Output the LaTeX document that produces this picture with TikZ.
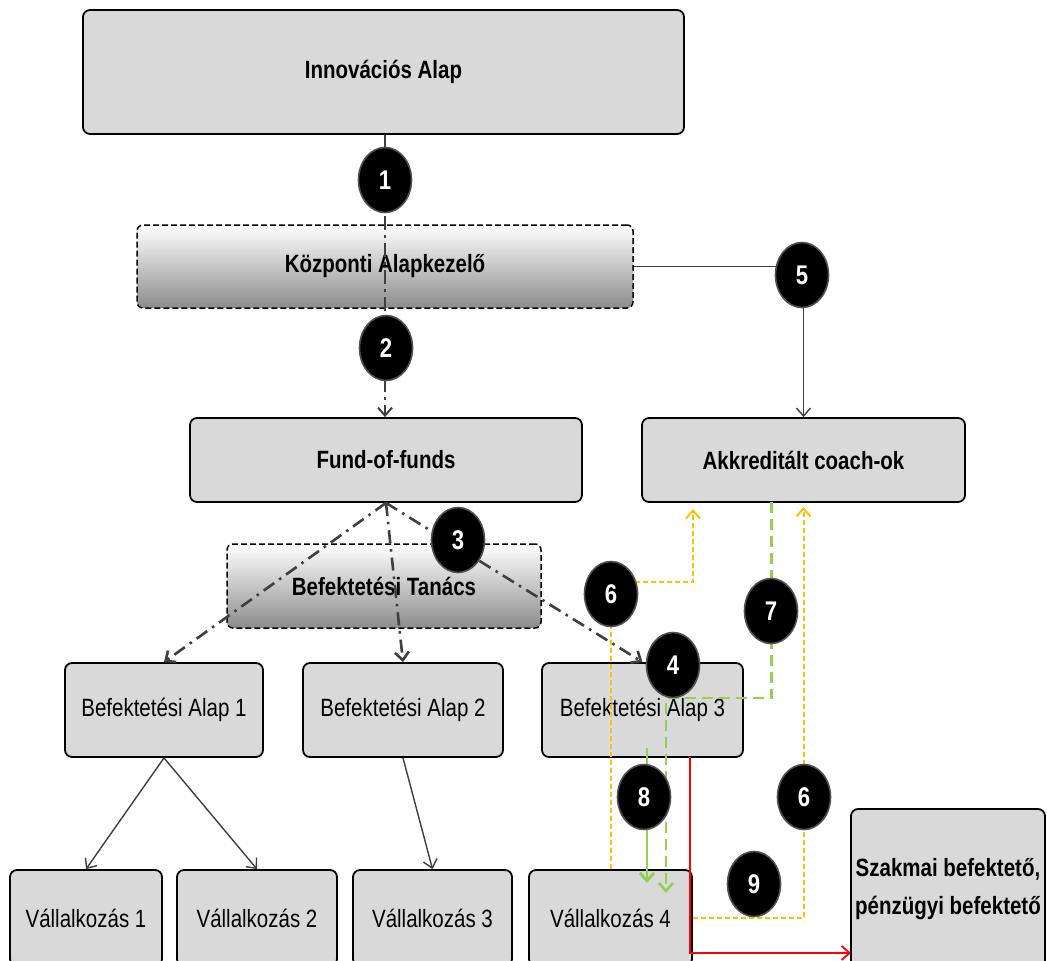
\documentclass[tikz,border=0pt]{standalone}
\usepackage{fontspec}
\newfontfamily\ar[FakeStretch=0.82]{Liberation Sans}
\usetikzlibrary{shapes.geometric,arrows.meta,calc}
\definecolor{boxgray}{HTML}{D9D9D9}
\definecolor{shgray}{HTML}{8C8C8C}
\definecolor{lngray}{HTML}{3F3F3F}
\definecolor{yel}{HTML}{FFC000}
\definecolor{grn}{HTML}{92D050}
\definecolor{circgray}{HTML}{505050}
\begin{document}
\begin{tikzpicture}[x=1pt,y=-1pt,
  box/.style={draw=black,line width=1.8pt,rounded corners=7pt,fill=boxgray,inner sep=0pt,align=center},
  bbox/.style={box,font=\ar\bfseries\fontsize{25}{30}\selectfont},
  rbox/.style={box,font=\ar\fontsize{25}{30}\selectfont},
  gbox/.style={draw=black,dashed,dash pattern=on 6pt off 3pt,line width=1.5pt,rounded corners=6pt,top color=white,bottom color=shgray,inner sep=0pt,font=\ar\bfseries\fontsize{25}{30}\selectfont},
  num/.style={ellipse,fill=black,draw=circgray,line width=1.6pt,minimum width=53pt,minimum height=65pt,inner sep=0pt,text=white,font=\ar\bfseries\fontsize{27}{27}\selectfont},
  tip/.style={-{Straight Barb[length=8pt,width=14pt]}},
  ddthin/.style={tip,draw=lngray,line width=2pt,dash pattern=on 14pt off 5pt on 3pt off 5pt},
  ddthick/.style={tip,draw=lngray,line width=2.6pt,dash pattern=on 13pt off 6pt on 2.5pt off 6pt},
  solidln/.style={tip,draw=lngray,line width=1.4pt},
  yline/.style={tip,draw=yel,line width=2pt,dash pattern=on 5pt off 3pt},
  gdash/.style={tip,draw=grn,line width=2.6pt,dash pattern=on 11pt off 6pt},
  gsolid/.style={tip,draw=grn,line width=2.8pt},
  rline/.style={tip,draw=red,line width=1.8pt}]
\useasboundingbox (0,0) rectangle (1047,961);
\clip (0,0) rectangle (1047,961);
\fill[white] (0,0) rectangle (1047,961);

% boxes
\node[bbox,minimum width=601pt,minimum height=124pt] (inn) at (383.5,72) {Innovációs Alap};
\node[gbox,minimum width=496pt,minimum height=83pt] (kal) at (385,266.5) {Központi Alapkezelő};
\node[bbox,minimum width=392pt,minimum height=84pt] (fof) at (386,460) {Fund-of-funds};
\node[bbox,minimum width=323pt,minimum height=84pt] (coach) at (803.5,460) {Akkreditált coach-ok};
\node[gbox,minimum width=314pt,minimum height=84pt] (tan) at (384,586) {Befektetési Tanács};
\node[rbox,minimum width=198pt,minimum height=94pt] (a1) at (164,710) {Befektetési Alap 1};
\node[rbox,minimum width=200pt,minimum height=94pt] (a2) at (403,710) {Befektetési Alap 2};
\node[rbox,minimum width=201pt,minimum height=94pt] (a3) at (642.5,710) {Befektetési Alap 3};
\node[rbox,minimum width=152pt,minimum height=96pt] (v1) at (86,918) {Vállalkozás 1};
\node[rbox,minimum width=160pt,minimum height=96pt] (v2) at (257,918) {Vállalkozás 2};
\node[rbox,minimum width=159pt,minimum height=96pt] (v3) at (432.5,918) {Vállalkozás 3};
\node[rbox,minimum width=163pt,minimum height=96pt] (v4) at (610.5,918) {Vállalkozás 4};
\node[box,minimum width=194pt,minimum height=160pt,font=\ar\bfseries\fontsize{25}{38}\selectfont] (szak) at (948,889) {Szakmai befektető,\\pénzügyi befektető};

% helper coordinates
\coordinate (y1corner) at (610.5,582);
\coordinate (y1end) at (693,509);
\coordinate (g1start) at (771.5,502);
\coordinate (g1corner) at (666,698);
\coordinate (g1end) at (666,893);
\coordinate (g2start) at (647,748);
\coordinate (g2end) at (647,883);
\coordinate (r0) at (690,757);
\coordinate (r1) at (690,953);
\coordinate (r2) at (851,953);

% connectors
\draw[ddthin] (inn.south -| 385,0) -- (fof.north -| 385,0);
\draw[solidln] (kal.east) -| (coach.north);
\draw[ddthick] (fof.south) -- (a1.north);
\draw[ddthick] (fof.south) -- (a2.north);
\draw[ddthick] (fof.south) -- (a3.north);
\draw[solidln] (a1.south) -- (v1.north);
\draw[solidln] (a1.south) -- (v2.north);
\draw[solidln] (a2.south) -- (v3.north);
\draw[yline] (v4.north) -- (y1corner) -| (y1end);
\draw[yline,shorten >=4pt] (v4.east) -| (coach.south);
\draw[gdash] (g1start) |- (g1corner) -- (g1end);
\draw[gsolid] (g2start) -- (g2end);
\draw[rline] (r0) -- (r1) -- (r2);

% numbered markers
\node[num] (n1) at (385,180) {1};
\node[num] (n2) at (386,348) {2};
\node[num] (n3) at (458,540) {3};
\node[num] (n4) at (673,665) {4};
\node[num] (n5) at (802,275) {5};
\node[num] (n6a) at (611,594) {6};
\node[num] (n7) at (771,611) {7};
\node[num] (n8) at (644,797) {8};
\node[num] (n6b) at (804,797) {6};
\node[num] (n9) at (754,884) {9};
\end{tikzpicture}
\end{document}
